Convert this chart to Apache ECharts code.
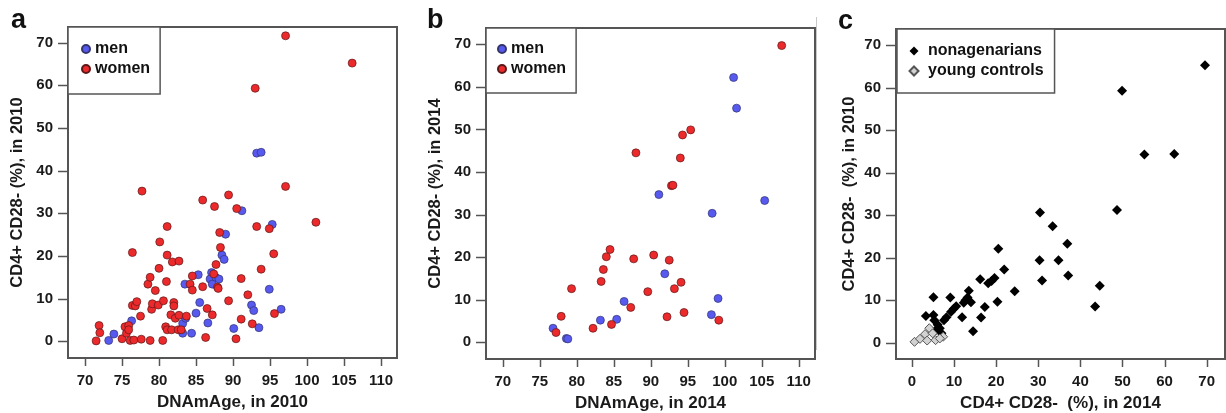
<!DOCTYPE html>
<html><head><meta charset="utf-8">
<script src="https://cdn.jsdelivr.net/npm/echarts@6/dist/echarts.min.js"></script>
<style>html,body{margin:0;padding:0;background:#fff}#c{width:1226px;height:413px}</style>
</head><body><div id="c"></div>
<script>
// ---------- data ----------
const ageTicks = [70, 75, 80, 85, 90, 95, 100, 105, 110];
const pctTicks = [0, 10, 20, 30, 40, 50, 60, 70];

// panel a: DNAmAge 2010 vs CD4+CD28- 2010
const aMen = [[73.2,0.2],[73.9,1.7],[76.3,4.8],[83.2,1.9],[83.2,4.2],[83.6,5.4],[84.4,1.9],[83.5,13.4],[85.0,6.6],[85.3,15.6],[85.5,9.1],[86.6,4.3],[87.1,16.1],[86.9,14.6],[87.7,14.9],[88.1,14.6],[87.2,13.4],[88.5,20.2],[88.8,19.2],[89.0,25.1],[90.1,3.0],[91.2,30.6],[92.5,8.5],[92.8,7.2],[93.5,3.2],[94.9,12.2],[95.3,27.4],[96.5,7.5],[93.2,44.1],[93.8,44.3]];
const aWomen = [[71.5,0.1],[71.9,3.7],[72.0,2.0],[75.0,0.6],[75.4,3.4],[75.6,1.9],[75.9,3.7],[75.9,2.7],[76.1,0.2],[76.4,20.8],[76.4,8.4],[76.6,0.3],[76.8,8.3],[77.0,9.3],[77.5,5.9],[77.6,0.5],[77.7,35.2],[78.5,13.4],[78.8,15.0],[78.8,0.2],[79.0,7.5],[79.1,8.8],[79.5,11.9],[79.9,8.5],[80.0,17.1],[80.1,23.3],[80.5,0.2],[80.6,9.5],[80.9,3.4],[81.0,14.0],[81.1,26.9],[81.1,20.2],[81.1,2.7],[81.6,6.2],[81.7,2.7],[81.8,18.6],[82.0,9.1],[82.0,8.3],[82.2,5.4],[82.7,18.8],[82.7,6.1],[82.6,2.7],[83.0,2.7],[83.7,5.9],[84.2,13.4],[84.5,12.0],[84.5,15.3],[85.9,12.8],[85.9,33.1],[86.3,0.9],[86.5,7.7],[87.2,6.2],[87.4,15.8],[87.5,31.6],[87.7,18.0],[87.9,12.7],[88.0,12.4],[88.2,25.5],[88.3,22.0],[89.4,34.3],[89.4,9.5],[90.4,0.6],[90.5,31.1],[91.1,14.7],[91.1,5.2],[92.0,10.9],[92.6,4.1],[93.0,59.3],[93.2,26.9],[93.8,16.9],[94.9,26.4],[95.5,20.5],[95.6,6.5],[97.1,71.6],[97.1,36.3],[101.2,27.9],[106.1,65.2]];

// panel b: DNAmAge 2014 vs CD4+CD28- 2014
const bMen = [[76.8,3.3],[78.6,0.9],[78.8,0.8],[83.2,5.2],[85.4,5.4],[86.4,9.6],[91.1,34.7],[91.9,16.1],[98.3,30.3],[98.2,6.5],[99.1,10.3],[101.2,62.2],[101.6,55.0],[105.4,33.3]];
const bWomen = [[77.2,2.3],[77.9,6.1],[79.3,12.6],[82.2,3.3],[83.3,14.3],[83.6,17.1],[84.0,20.1],[84.5,21.8],[84.7,4.2],[87.3,8.2],[87.7,19.6],[88.0,44.5],[89.6,11.9],[90.4,20.5],[92.2,6.0],[92.5,19.3],[92.8,36.8],[93.0,36.9],[93.2,12.6],[94.0,43.3],[94.1,14.1],[94.3,48.7],[94.5,7.0],[95.4,49.9],[99.2,5.2],[107.7,69.7]];

// panel c: CD4+CD28- 2014 vs 2010
const cNona = [[69.6,65.3],[49.9,59.3],[55.2,44.3],[62.3,44.4],[48.7,31.2],[30.4,30.6],[33.4,27.4],[36.9,23.3],[20.5,22.1],[30.3,19.4],[34.8,19.4],[21.9,17.2],[16.2,14.9],[19.6,15.2],[18.9,14.5],[18.1,14.0],[30.9,14.6],[37.1,15.8],[44.6,13.4],[24.4,12.1],[13.5,12.2],[13.2,10.6],[12.3,9.4],[12.7,10.0],[14.0,9.5],[9.1,10.6],[5.1,10.7],[10.5,8.6],[9.9,8.0],[9.3,7.3],[17.3,8.4],[20.3,9.6],[43.5,8.5],[11.9,6.0],[16.4,5.9],[8.2,6.0],[7.6,5.3],[3.3,6.3],[5.1,6.5],[14.5,2.7],[5.3,5.3],[6.1,4.2],[6.6,3.4],[5.7,3.0],[7.0,2.2],[4.9,2.6]];
const cYoung = [[0.6,0.2],[1.9,0.9],[3.1,2.0],[4.1,3.4],[3.6,0.5],[5.6,0.6],[7.4,1.4],[4.9,2.2],[6.6,1.0]];

// ---------- styling ----------
const FONT = '"Liberation Sans", Arial, Helvetica, sans-serif';
const FRAME = '#555';
const TXT = '#1a1a1a';
const X_RANGES = [[67.7, 112.16], [67.74, 112.2], [-3.8, 74.35]];
const Y_RANGES = [[-3.91, 73.66], [-3.92, 73.83], [-3.84, 73.8]];
const X_TICKS = [ageTicks, ageTicks, pctTicks];
const Y_TICKS = [pctTicks, pctTicks, pctTicks];
const GRIDS = [[68, 27, 329, 331], [486, 28, 329, 331], [896, 29, 329, 330]];

function xAxis(gi, name) {
  return {
    gridIndex: gi, type: 'value', min: X_RANGES[gi][0], max: X_RANGES[gi][1],
    axisLine: {show: false}, splitLine: {show: false}, axisTick: {show: false},
    axisLabel: {customValues: X_TICKS[gi], margin: 15, fontSize: 15, fontWeight: 'bold', color: TXT, fontFamily: FONT},
    name: name, nameLocation: 'middle', nameGap: 36,
    nameTextStyle: {fontSize: 17, fontWeight: 'bold', color: TXT, fontFamily: FONT}
  };
}
function yAxis(gi, name, gap) {
  return {
    gridIndex: gi, type: 'value', min: Y_RANGES[gi][0], max: Y_RANGES[gi][1],
    axisLine: {show: false}, splitLine: {show: false}, axisTick: {show: false},
    axisLabel: {customValues: Y_TICKS[gi], margin: 15, fontSize: 15, fontWeight: 'bold', color: TXT, fontFamily: FONT},
    name: name, nameLocation: 'middle', nameGap: gap,
    nameTextStyle: {fontSize: 16.5, fontWeight: 'bold', color: TXT, fontFamily: FONT}
  };
}
const menStyle = {color: '#5759ef', borderColor: '#34356e', borderWidth: 0.7, opacity: 1};
const womenStyle = {color: '#ec2a2c', borderColor: '#5c1819', borderWidth: 0.7, opacity: 1};
const nonaStyle = {color: '#000', borderColor: '#000', borderWidth: 0, opacity: 1};
const youngStyle = {color: '#d2d2d2', borderColor: '#555', borderWidth: 1, opacity: 1};

function legend(left, top, padding, names, iw, textPad) {
  return {
    left: left, top: top, orient: 'vertical', padding: padding, itemGap: 4,
    itemWidth: iw, itemHeight: iw, borderColor: FRAME, borderWidth: 1.5, backgroundColor: '#fff',
    selectedMode: false,
    textStyle: {fontSize: 16, fontWeight: 'bold', color: '#111', fontFamily: FONT, lineHeight: 16, padding: [0, 0, 0, textPad]},
    data: names
  };
}
function grid(g) {
  return {left: g[0], top: g[1], width: g[2], height: g[3], show: true, borderColor: FRAME, borderWidth: 2,
    backgroundColor: 'transparent', outerBoundsMode: 'none', containLabel: false};
}

// Outward axis tick marks (axis decoration), placed on the same linear axis mapping as the grids.
const tickEls = [];
for (let i = 0; i < 3; i++) {
  const g = GRIDS[i];
  const left = g[0], top = g[1], w = g[2], h = g[3], bottom = top + h;
  const xr = X_RANGES[i], yr = Y_RANGES[i];
  X_TICKS[i].forEach(function (v) {
    const px = Math.round(left + (v - xr[0]) / (xr[1] - xr[0]) * w) + 0.5;
    tickEls.push({type: 'line', silent: true, z: 100, shape: {x1: px, y1: bottom, x2: px, y2: bottom + 8},
      style: {stroke: FRAME, lineWidth: 1.5}});
  });
  Y_TICKS[i].forEach(function (v) {
    const py = Math.round(bottom - (v - yr[0]) / (yr[1] - yr[0]) * h) + 0.5;
    tickEls.push({type: 'line', silent: true, z: 100, shape: {x1: left - 10, y1: py, x2: left, y2: py},
      style: {stroke: FRAME, lineWidth: 1.5}});
  });
}

const chart = echarts.init(document.getElementById('c'), null, {renderer: 'canvas'});
chart.setOption({
  animation: false,
  backgroundColor: '#fff',
  grid: GRIDS.map(grid),
  xAxis: [
    xAxis(0, 'DNAmAge, in 2010'),
    xAxis(1, 'DNAmAge, in 2014'),
    xAxis(2, 'CD4+ CD28-  (%), in 2014')
  ],
  yAxis: [
    yAxis(0, 'CD4+ CD28- (%), in 2010', 42),
    yAxis(1, 'CD4+ CD28- (%), in 2014', 42),
    yAxis(2, 'CD4+ CD28-  (%), in 2010', 38)
  ],
  legend: [
    legend(68, 27, [14, 10, 17, 13], [{name: 'men', icon: 'circle'}, {name: 'women', icon: 'circle'}], 8, 0),
    legend(486, 28, [13, 10, 16, 11], [{name: 'men', icon: 'circle'}, {name: 'women', icon: 'circle'}], 8, 0),
    legend(897, 29, [14, 11, 14, 11.5], [{name: 'nonagenarians', icon: 'diamond'}, {name: 'young controls', icon: 'diamond'}], 9, 4.5)
  ],
  series: [
    {type: 'scatter', name: 'men', xAxisIndex: 0, yAxisIndex: 0, data: aMen, symbol: 'circle', symbolSize: 8, itemStyle: menStyle, emphasis: {disabled: true}},
    {type: 'scatter', name: 'women', xAxisIndex: 0, yAxisIndex: 0, data: aWomen, symbol: 'circle', symbolSize: 8, itemStyle: womenStyle, emphasis: {disabled: true}},
    {type: 'scatter', name: 'men', xAxisIndex: 1, yAxisIndex: 1, data: bMen, symbol: 'circle', symbolSize: 8, itemStyle: menStyle, emphasis: {disabled: true}},
    {type: 'scatter', name: 'women', xAxisIndex: 1, yAxisIndex: 1, data: bWomen, symbol: 'circle', symbolSize: 8, itemStyle: womenStyle, emphasis: {disabled: true}},
    {type: 'scatter', name: 'nonagenarians', xAxisIndex: 2, yAxisIndex: 2, data: cNona, symbol: 'diamond', symbolSize: 10, itemStyle: nonaStyle, emphasis: {disabled: true}},
    {type: 'scatter', name: 'young controls', xAxisIndex: 2, yAxisIndex: 2, data: cYoung, symbol: 'diamond', symbolSize: 9, itemStyle: youngStyle, emphasis: {disabled: true}}
  ],
  graphic: [
    {type: 'text', left: 11, top: 7, style: {text: 'a', font: 'bold 27px ' + FONT, fill: '#111'}},
    {type: 'text', left: 427, top: 7, style: {text: 'b', font: 'bold 27px ' + FONT, fill: '#111'}},
    {type: 'text', left: 838, top: 8, style: {text: 'c', font: 'bold 27px ' + FONT, fill: '#111'}},
    {type: 'line', shape: {x1: 816.5, y1: 17, x2: 816.5, y2: 350}, style: {stroke: '#c8c8c8', lineWidth: 1}}
  ].concat(tickEls)
});
</script></body></html>
